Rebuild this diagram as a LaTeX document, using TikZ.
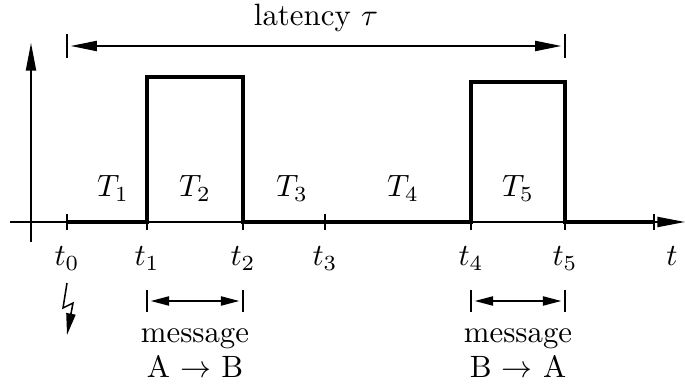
\documentclass[tikz,border=0pt]{standalone}
\usepackage{amsmath,amssymb}
\usetikzlibrary{calc,positioning,arrows.meta}

\begin{document}
\begin{tikzpicture}[x=0.0114cm,y=-0.0114cm,
    axisline/.style={line width=0.5pt},
    signal/.style={line width=1.3pt},
    tickmark/.style={line width=0.5pt},
    bigarrow/.style={line width=0.5pt,{Triangle[length=8.5pt,width=3.3pt]}-{Triangle[length=8.5pt,width=3.3pt]}},
    smallarrow/.style={line width=0.5pt,{Triangle[length=6pt,width=3pt]}-{Triangle[length=6pt,width=3pt]}},
    axisarrow/.style={line width=0.5pt,-{Triangle[length=9pt,width=3.3pt]}},
    lbl/.style={anchor=base,inner sep=0pt}]
  \useasboundingbox (0,0) rectangle (685,385);
  % axes
  \coordinate (xstart) at (10,222);
  \coordinate (xend) at (685,222);
  \coordinate (ystart) at (31,242);
  \coordinate (yend) at (31,43);
  \draw[axisarrow] (xstart) -- (xend);
  \draw[axisarrow] (ystart) -- (yend);
  % time points and ticks
  \foreach \n/\x in {0/67,1/147,2/243,3/325,4/471,5/565,6/654} {
    \coordinate (t\n) at (\x,222);
    \draw[tickmark] ($(t\n)+(0,-8)$) -- ($(t\n)+(0,8)$);
  }
  \foreach \n in {0,...,5}
    \node[lbl] (tlab\n) at ($(t\n)+(0,44)$) {$t_\n$};
  \node[lbl] (tlab) at (672,266) {$t$};
  % signal
  \coordinate (hi1) at (0,77);
  \coordinate (hi2) at (0,82);
  \draw[signal] (t0) -- (t1) -- (t1 |- hi1) -- (t2 |- hi1) -- (t2) -- (t4)
    -- (t4 |- hi2) -- (t5 |- hi2) -- (t5) -- (t6);
  % intervals
  \foreach \n/\x in {1/113,2/195,3/292,4/403,5/518}
    \node[lbl] (T\n) at (\x,197) {$T_\n$};
  % latency
  \coordinate (lat0) at (67,46);
  \coordinate (lat5) at (565,46);
  \draw[tickmark] ($(lat0)+(0,-12)$) -- ($(lat0)+(0,12)$);
  \draw[tickmark] ($(lat5)+(0,-12)$) -- ($(lat5)+(0,12)$);
  \draw[bigarrow,shorten <=1.2pt,shorten >=1.2pt] (lat0) -- (lat5);
  \node[lbl] (latency) at (316,26) {latency $\tau$};
  % trigger
  \coordinate (flash) at (67,283);
  \draw[line width=0.5pt,-{Triangle[length=7pt,width=3pt]}] (flash) -- (63,308) -- (73,303) -- (67,335);
  % messages
  \foreach \a/\b/\s/\d in {1/2/A/B,4/5/B/A} {
    \coordinate (m\a) at ($(t\a)+(0,79)$);
    \coordinate (m\b) at ($(t\b)+(0,79)$);
    \draw[tickmark] ($(m\a)+(0,-11)$) -- ($(m\a)+(0,11)$);
    \draw[tickmark] ($(m\b)+(0,-11)$) -- ($(m\b)+(0,11)$);
    \draw[smallarrow,shorten <=1.2pt,shorten >=1.2pt] (m\a) -- (m\b);
    \node[lbl] (msg\a) at ($(m\a)!0.5!(m\b)+(0,42)$) {message};
    \node[lbl] (dir\a) at ($(m\a)!0.5!(m\b)+(0,76)$) {\s{} $\rightarrow$ \d};
  }
\end{tikzpicture}
\end{document}
